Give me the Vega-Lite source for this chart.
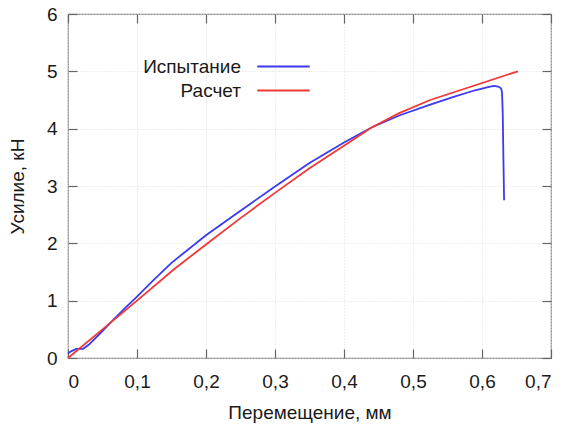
{
  "$schema": "https://vega.github.io/schema/vega-lite/v6.json",
  "width": 483,
  "height": 344,
  "autosize": "none",
  "padding": {"left": 68, "top": 14, "right": 17, "bottom": 72},
  "background": "white",
  "config": {
    "font": "Liberation Sans",
    "view": {"stroke": "#8a8a8a", "strokeWidth": 1.2},
    "axis": {
      "domain": false,
      "tickColor": "#666666",
      "tickSize": -9,
      "tickWidth": 1.2,
      "labelColor": "#1a1a1a",
      "titleColor": "#1a1a1a",
      "labelFontSize": 19,
      "titleFontSize": 19,
      "titleFontWeight": "normal",
      "gridColor": "#dddddd",
      "gridDash": [1, 2],
      "gridWidth": 1
    }
  },
  "data": {
    "values": [
      {"series": "Испытание", "x": 0.0, "y": 0.08},
      {"series": "Испытание", "x": 0.005, "y": 0.12},
      {"series": "Испытание", "x": 0.012, "y": 0.16},
      {"series": "Испытание", "x": 0.022, "y": 0.16},
      {"series": "Испытание", "x": 0.03, "y": 0.23},
      {"series": "Испытание", "x": 0.045, "y": 0.41},
      {"series": "Испытание", "x": 0.061, "y": 0.61},
      {"series": "Испытание", "x": 0.08, "y": 0.84},
      {"series": "Испытание", "x": 0.1, "y": 1.07},
      {"series": "Испытание", "x": 0.125, "y": 1.37},
      {"series": "Испытание", "x": 0.15, "y": 1.66},
      {"series": "Испытание", "x": 0.2, "y": 2.14},
      {"series": "Испытание", "x": 0.25, "y": 2.57},
      {"series": "Испытание", "x": 0.3, "y": 2.99},
      {"series": "Испытание", "x": 0.35, "y": 3.40},
      {"series": "Испытание", "x": 0.4, "y": 3.76},
      {"series": "Испытание", "x": 0.44, "y": 4.02},
      {"series": "Испытание", "x": 0.48, "y": 4.23},
      {"series": "Испытание", "x": 0.525, "y": 4.42},
      {"series": "Испытание", "x": 0.56, "y": 4.56},
      {"series": "Испытание", "x": 0.59, "y": 4.67},
      {"series": "Испытание", "x": 0.61, "y": 4.73},
      {"series": "Испытание", "x": 0.618, "y": 4.745},
      {"series": "Испытание", "x": 0.623, "y": 4.735},
      {"series": "Испытание", "x": 0.626, "y": 4.72},
      {"series": "Испытание", "x": 0.628, "y": 4.69},
      {"series": "Испытание", "x": 0.629, "y": 4.63},
      {"series": "Испытание", "x": 0.630, "y": 4.3},
      {"series": "Испытание", "x": 0.631, "y": 3.5},
      {"series": "Испытание", "x": 0.632, "y": 2.75},
      {"series": "Расчет", "x": 0.0, "y": 0.0},
      {"series": "Расчет", "x": 0.05, "y": 0.5},
      {"series": "Расчет", "x": 0.1, "y": 1.0},
      {"series": "Расчет", "x": 0.155, "y": 1.56},
      {"series": "Расчет", "x": 0.2, "y": 1.98},
      {"series": "Расчет", "x": 0.25, "y": 2.44},
      {"series": "Расчет", "x": 0.3, "y": 2.88},
      {"series": "Расчет", "x": 0.35, "y": 3.31},
      {"series": "Расчет", "x": 0.4, "y": 3.70},
      {"series": "Расчет", "x": 0.44, "y": 4.02},
      {"series": "Расчет", "x": 0.48, "y": 4.27},
      {"series": "Расчет", "x": 0.525, "y": 4.50},
      {"series": "Расчет", "x": 0.652, "y": 5.0}
    ]
  },
  "layer": [
    {
      "mark": {"type": "line", "strokeWidth": 1.8},
      "encoding": {
        "x": {
          "field": "x", "type": "quantitative",
          "scale": {"domain": [0, 0.7], "nice": false},
          "axis": {
            "orient": "bottom",
            "values": [0, 0.1, 0.2, 0.3, 0.4, 0.5, 0.6, 0.7],
            "labelExpr": "replace(format(datum.value, '.1~f'), '.', ',')",
            "labelPadding": 23,
            "title": "Перемещение, мм",
            "titlePadding": 12,
            "grid": true
          }
        },
        "y": {
          "field": "y", "type": "quantitative",
          "scale": {"domain": [0, 6], "nice": false},
          "axis": {
            "orient": "left",
            "values": [0, 1, 2, 3, 4, 5, 6],
            "labelPadding": 20,
            "title": "Усилие, кН",
            "titlePadding": 19,
            "grid": true
          }
        },
        "color": {
          "field": "series", "type": "nominal",
          "scale": {"domain": ["Испытание", "Расчет"], "range": ["#3a3af0", "#f03838"]},
          "legend": {
            "orient": "none",
            "legendX": 204,
            "legendY": 41,
            "title": null,
            "direction": "vertical",
            "symbolType": "M-2.5,0H2.5",
            "symbolSize": 441,
            "symbolStrokeWidth": 2,
            "labelAlign": "right",
            "labelOffset": -54,
            "labelFontSize": 19,
            "labelColor": "#1a1a1a",
            "rowPadding": 2
          }
        }
      }
    },
    {
      "mark": {"type": "line", "opacity": 0},
      "encoding": {
        "x": {
          "field": "x", "type": "quantitative",
          "axis": {"orient": "top", "values": [0, 0.1, 0.2, 0.3, 0.4, 0.5, 0.6, 0.7], "labels": false, "title": null, "grid": false}
        },
        "y": {
          "field": "y", "type": "quantitative",
          "axis": {"orient": "right", "values": [0, 1, 2, 3, 4, 5, 6], "labels": false, "title": null, "grid": false}
        },
        "detail": {"field": "series", "type": "nominal"}
      }
    }
  ],
  "resolve": {"axis": {"x": "independent", "y": "independent"}}
}
